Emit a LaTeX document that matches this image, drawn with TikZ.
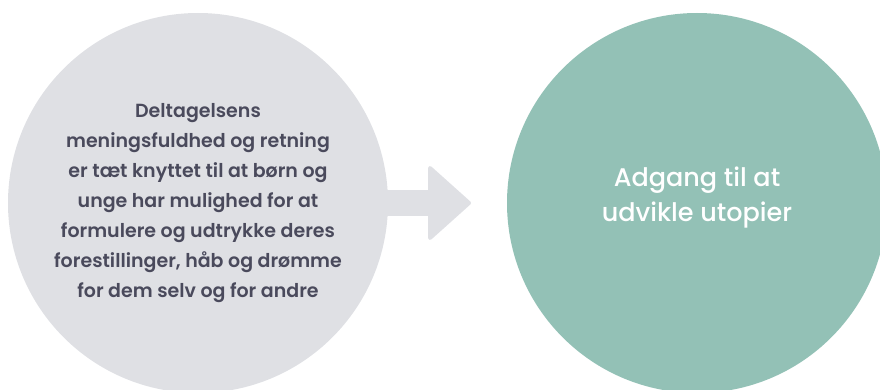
\documentclass[tikz,border=0pt]{standalone}
\usepackage{fontspec}
\setmainfont{Poppins}
\newfontfamily\medfont{Poppins SemiBold}
\newfontfamily\lysfont{Poppins Medium}
\usetikzlibrary{positioning,calc,arrows.meta}
\definecolor{cirkelgraa}{HTML}{DFE0E4}
\definecolor{cirkelgroen}{HTML}{93C1B6}
\definecolor{tekstgraa}{HTML}{4A4A5C}
\tikzset{
  cirkel/.style={circle, minimum size=380pt, inner sep=0pt, outer sep=0pt, align=center},
  pil/.style={cirkelgraa, line width=26pt, -{Triangle[length=44pt, width=78pt, line width=4pt, round]}}
}
\begin{document}
\begin{tikzpicture}[x=1pt, y=-1pt]
    \useasboundingbox (0,0) rectangle (880,390);
    % Venstre cirkel med deltagelsens tekst
    \node[cirkel, fill=cirkelgraa, text=tekstgraa, font=\medfont\fontsize{19}{30}\selectfont] (deltagelse) at (198,203)
        {Deltagelsens\\meningsfuldhed og retning\\er tæt knyttet til at børn og\\unge har mulighed for at\\formulere og udtrykke deres\\forestillinger, håb og drømme\\for dem selv og for andre};

    % Hoejre cirkel med utopier
    \node[cirkel, fill=cirkelgroen, text=white, font=\lysfont\fontsize{25.5}{35}\selectfont, right=119pt of deltagelse] (utopier)
        {\raisebox{6pt}[\height][\depth]{\begin{tabular}{c}Adgang til at\\udvikle utopier\end{tabular}}};

    % Pil mellem cirklerne
    \coordinate (spids) at ($(utopier.west)+(-36,0)$);
    \draw[pil] ($(deltagelse.east)+(-6,0)$) -- (spids);
\end{tikzpicture}
\end{document}
